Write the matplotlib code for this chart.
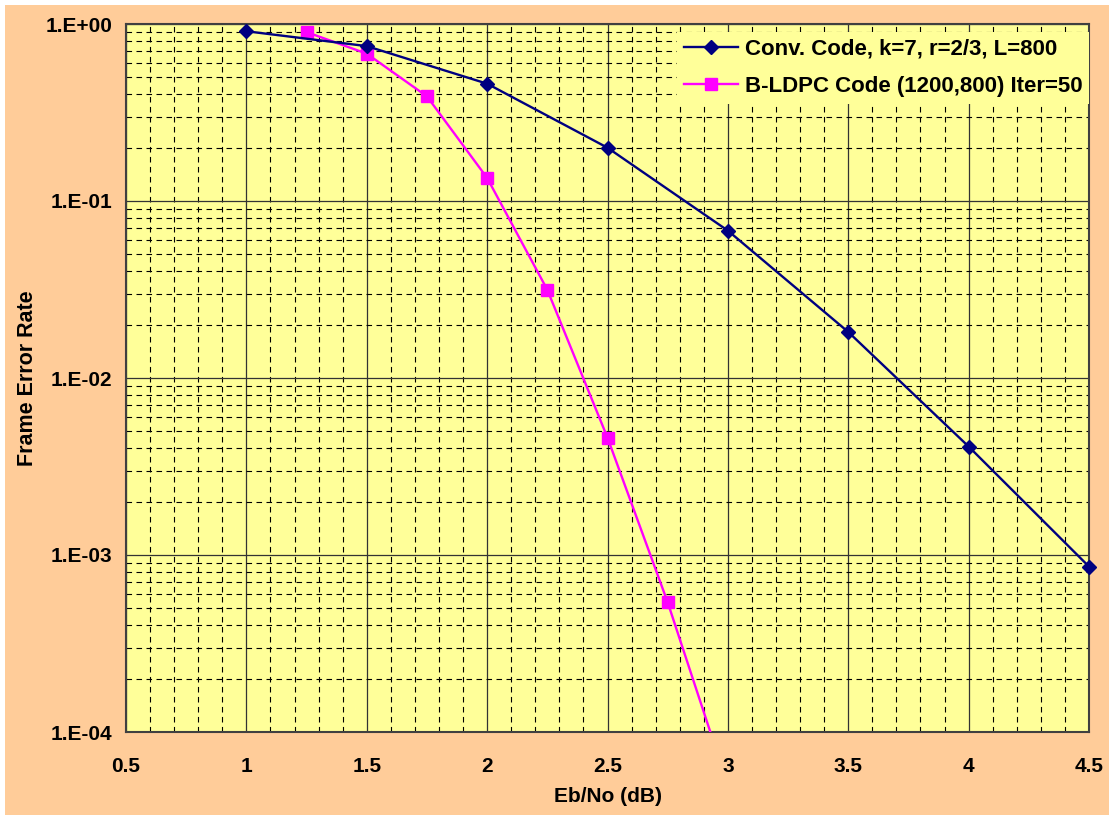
import matplotlib
matplotlib.use("Agg")
import matplotlib.pyplot as plt
from matplotlib.patches import Rectangle
from matplotlib.ticker import FixedLocator, MultipleLocator, NullFormatter

plt.rcParams['font.family'] = ['Liberation Sans', 'DejaVu Sans']
plt.rcParams['font.weight'] = 'bold'

# Eb/No in dB
conv_x = [1.0, 1.5, 2.0, 2.5, 3.0, 3.5, 4.0, 4.5]
conv_fer = [0.91, 0.75, 0.46, 0.20, 0.068, 0.0182, 0.0041, 0.00086]

ldpc_x = [1.25, 1.5, 1.75, 2.0, 2.25, 2.5, 2.75, 3.0]
ldpc_fer = [0.90, 0.68, 0.39, 0.135, 0.0315, 0.0046, 0.00054, 0.00005]

conv_label = "Conv. Code, k=7, r=2/3, L=800"
ldpc_label = "B-LDPC Code (1200,800) Iter=50"

y_major = [1e0, 1e-1, 1e-2, 1e-3, 1e-4]
y_major_labels = ["1.E+00", "1.E-01", "1.E-02", "1.E-03", "1.E-04"]
x_ticks = [0.5, 1, 1.5, 2, 2.5, 3, 3.5, 4, 4.5]
x_tick_labels = ["0.5", "1", "1.5", "2", "2.5", "3", "3.5", "4", "4.5"]

W, H = 1109, 815
fig = plt.figure(figsize=(W / 100, H / 100), dpi=100)
fig.patch.set_facecolor("white")
bg = Rectangle((5 / W, 0), 1 - 5 / W, 1 - 5 / H, transform=fig.transFigure,
               facecolor="#FFCC99", edgecolor="none", zorder=-10)
fig.add_artist(bg)

ax = fig.add_axes([126 / W, (H - 732) / H, (1089 - 126) / W, (732 - 24) / H])
ax.set_facecolor("#FFFF99")

ax.set_yscale("log")
ax.set_xlim(0.5, 4.5)
ax.set_ylim(1e-4, 1e0)

ax.set_xticks(x_ticks)
ax.set_xticklabels(x_tick_labels)
ax.xaxis.set_minor_locator(MultipleLocator(0.1))
ax.yaxis.set_major_locator(FixedLocator(y_major))
ax.set_yticklabels(y_major_labels)
minor_y = [m * 10.0 ** e for e in range(-4, 0) for m in range(2, 10)]
ax.yaxis.set_minor_locator(FixedLocator(minor_y))
ax.yaxis.set_minor_formatter(NullFormatter())

ax.grid(which="major", color="#333333", linestyle="-", linewidth=0.9)
ax.grid(which="minor", color="black", linestyle=(0, (5, 4)), linewidth=0.8)
ax.set_axisbelow(True)

ax.tick_params(which="both", length=0)
ax.tick_params(axis="x", labelsize=15, pad=18)
ax.tick_params(axis="y", labelsize=15, pad=10)

for s in ax.spines.values():
    s.set_color("#404040")
    s.set_linewidth(1.5)

ax.plot(conv_x, conv_fer, color="#000080", linewidth=1.7, marker="D",
        markersize=7.2, label=conv_label, clip_on=False, zorder=4)
ax.plot(ldpc_x, ldpc_fer, color="#FF00FF", linewidth=1.7, marker="s",
        markersize=8.7, label=ldpc_label, zorder=3)

ax.set_xlabel("Eb/No (dB)", fontsize=15, fontweight="bold", labelpad=8)
ax.set_ylabel("Frame Error Rate", fontsize=15.5, fontweight="bold", labelpad=5)

leg = ax.legend(loc="upper right", bbox_to_anchor=(1.0, 1 - 8 / 708),
                fontsize=16, frameon=True, facecolor="#FFFF99",
                edgecolor="none", framealpha=1, borderaxespad=0,
                borderpad=0.3, handlelength=2.45, labelspacing=0.73,
                handletextpad=0.3)
leg.get_frame().set_boxstyle("square", pad=0)
leg.set_zorder(5)

fig.savefig("out.png", dpi=100)
